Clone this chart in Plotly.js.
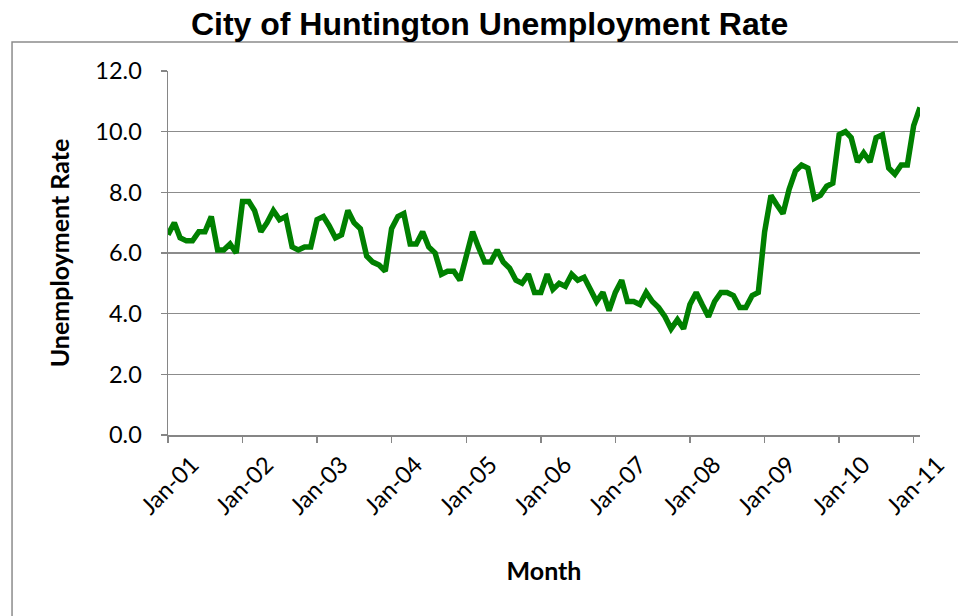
<!DOCTYPE html>
<html>
<head>
<meta charset="utf-8">
<script src="https://cdn.plot.ly/plotly-3.0.1.min.js"></script>
<style>html,body{margin:0;padding:0;background:#fff;}#chart{width:958px;height:616px;}</style>
</head>
<body>
<div id="chart"></div>
<script>
// Monthly unemployment rate, Jan-2001 .. Feb-2011
var startYear = 2001;
var rate2001 = [6.6, 7.0, 6.5, 6.4, 6.4, 6.7, 6.7, 7.2, 6.1, 6.1, 6.3, 6.0];
var rate2002 = [7.7, 7.7, 7.4, 6.7, 7.0, 7.4, 7.1, 7.2, 6.2, 6.1, 6.2, 6.2];
var rate2003 = [7.1, 7.2, 6.9, 6.5, 6.6, 7.4, 7.0, 6.8, 5.9, 5.7, 5.6, 5.4];
var rate2004 = [6.8, 7.2, 7.3, 6.3, 6.3, 6.7, 6.2, 6.0, 5.3, 5.4, 5.4, 5.1];
var rate2005 = [5.9, 6.7, 6.2, 5.7, 5.7, 6.1, 5.7, 5.5, 5.1, 5.0, 5.3, 4.7];
var rate2006 = [4.7, 5.3, 4.8, 5.0, 4.9, 5.3, 5.1, 5.2, 4.8, 4.4, 4.7, 4.1];
var rate2007 = [4.7, 5.1, 4.4, 4.4, 4.3, 4.7, 4.4, 4.2, 3.9, 3.5, 3.8, 3.5];
var rate2008 = [4.3, 4.7, 4.3, 3.9, 4.4, 4.7, 4.7, 4.6, 4.2, 4.2, 4.6, 4.7];
var rate2009 = [6.7, 7.9, 7.6, 7.3, 8.1, 8.7, 8.9, 8.8, 7.8, 7.9, 8.2, 8.3];
var rate2010 = [9.9, 10.0, 9.8, 9.0, 9.3, 9.0, 9.8, 9.9, 8.8, 8.6, 8.9, 8.9];
var rate2011 = [10.2, 10.8];

var yearly = [rate2001, rate2002, rate2003, rate2004, rate2005, rate2006,
              rate2007, rate2008, rate2009, rate2010, rate2011];

var months = [];
var rates = [];
yearly.forEach(function (arr, yi) {
  arr.forEach(function (v, mi) {
    var mm = (mi + 1 < 10 ? '0' : '') + (mi + 1);
    months.push((startYear + yi) + '-' + mm + '-01');
    rates.push(v);
  });
});

var yTicks = [0, 2, 4, 6, 8, 10, 12];

var calib = 'Lato, "Liberation Sans", sans-serif';

var trace = {
  x: months,
  y: rates,
  type: 'scatter',
  mode: 'lines',
  line: {color: '#008000', width: 5.5},
  hoverinfo: 'x+y'
};

var layout = {
  width: 958,
  height: 616,
  paper_bgcolor: '#ffffff',
  plot_bgcolor: '#ffffff',
  margin: {l: 168, r: 38, t: 71, b: 181},
  showlegend: false,
  title: {
    text: '<b>City of Huntington Unemployment Rate</b>',
    font: {family: '"Liberation Sans", Arial, sans-serif', size: 32, color: '#000'},
    x: 0.511, xanchor: 'center',
    y: 0.962, yanchor: 'middle', yref: 'container'
  },
  xaxis: {
    type: 'date',
    range: [months[0], months[months.length - 1]],
    tickmode: 'linear',
    tick0: months[0],
    dtick: 'M12',
    tickformat: '%b-%y',
    tickangle: -45,
    ticks: 'outside',
    ticklen: 6,
    tickwidth: 1.5,
    tickcolor: '#868686',
    showline: true,
    linecolor: '#868686',
    linewidth: 1.5,
    showgrid: false,
    zeroline: false,
    ticklabelstandoff: -1,
    ticklabelshift: 24,
    tickfont: {family: calib, size: 23.5, color: '#000'},
    title: {
      text: '<b>Month</b>',
      font: {family: calib, size: 25, color: '#000'},
      standoff: 44
    }
  },
  yaxis: {
    range: [0, 12],
    tickmode: 'array',
    tickvals: yTicks,
    tickformat: '.1f',
    ticks: 'outside',
    ticklen: 6,
    tickwidth: 1.5,
    tickcolor: '#868686',
    showline: true,
    linecolor: '#868686',
    linewidth: 1.5,
    showgrid: true,
    gridcolor: '#8c8c8c',
    gridwidth: 1.5,
    zeroline: false,
    ticklabelstandoff: 14,
    tickfont: {family: calib, size: 23.5, color: '#000'},
    title: {
      text: '<b>Unemployment Rate</b>',
      font: {family: calib, size: 25, color: '#000'},
      standoff: 18
    }
  },
  shapes: [{
    type: 'rect', xref: 'paper', yref: 'paper',
    x0: -0.2074, x1: 1.08, y0: -0.52, y1: 1.0797,
    line: {color: '#8c8c8c', width: 1.5},
    fillcolor: 'rgba(0,0,0,0)',
    layer: 'below'
  }]
};

Plotly.newPlot('chart', [trace], layout, {displayModeBar: false, staticPlot: true});
</script>
</body>
</html>
